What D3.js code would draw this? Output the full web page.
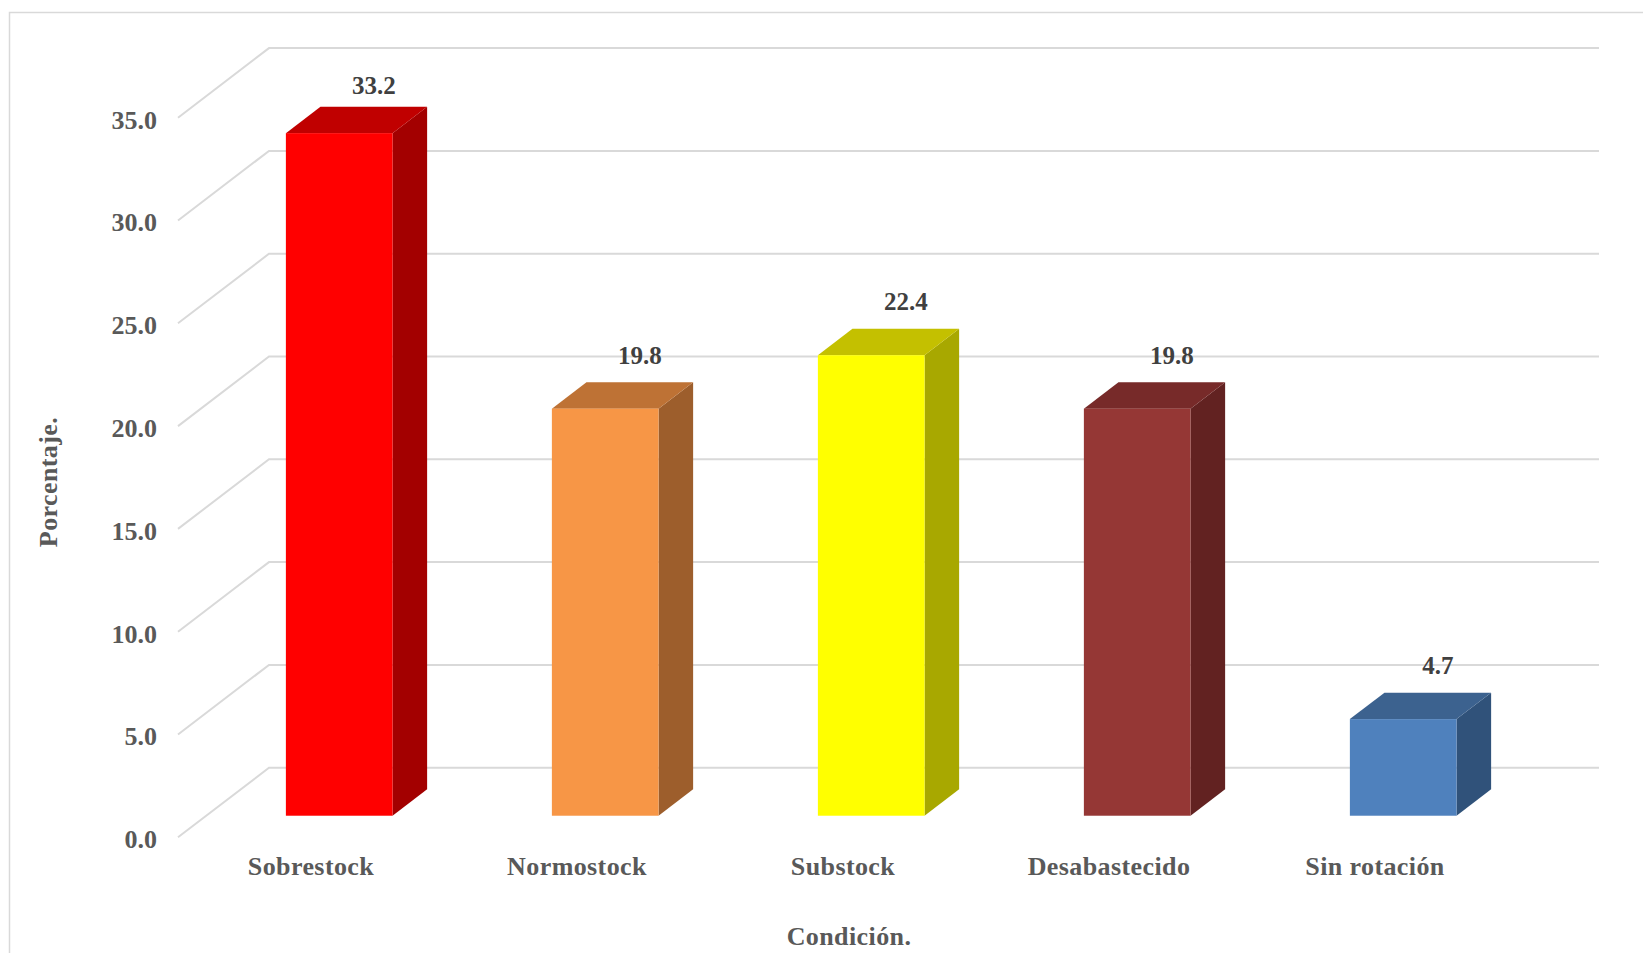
<!DOCTYPE html>
<html>
<head>
<meta charset="utf-8">
<script src="https://d3js.org/d3.v7.min.js"></script>
<style>
  body { margin: 0; background: #fff; }
  text { font-family: "Liberation Serif", "DejaVu Serif", serif; font-weight: bold; }
</style>
</head>
<body>
<div id="chart"></div>
<script>
// data
var categories = ["Sobrestock", "Normostock", "Substock", "Desabastecido", "Sin rotación"];
var values = [33.2, 19.8, 22.4, 19.8, 4.7];
var yTicks = [0, 5, 10, 15, 20, 25, 30, 35];
var frontColors = ["#FF0000", "#F79646", "#FFFF00", "#953735", "#4F81BD"];
var topColors = ["#C00000", "#BE7235", "#C4C000", "#772A29", "#3C628F"];
var sideColors = ["#A30000", "#9D5E2C", "#A8A800", "#622221", "#30527A"];

var svgWidth = 1643;
var svgHeight = 953;

var svg = d3.select("#chart")
    .append("svg")
    .attr("width", svgWidth)
    .attr("height", svgHeight);

// chart area border
svg.append("rect")
    .attr("x", 9.5).attr("y", 12.5)
    .attr("width", 1700).attr("height", 1000)
    .attr("fill", "none")
    .attr("stroke", "#d9d9d9")
    .attr("stroke-width", 1.5);

// 3d depth: back wall is shifted by (depthX, -depthY) from the front plane
var depthX = 91, depthY = 69.6;
var barFront = 0.31, barBack = 0.69;

// front plane scales
var yScale = d3.scaleLinear().domain([0, 35]).range([837.3, 117.7]);
var xScale = d3.scaleBand()
    .domain(categories)
    .range([178, 1508])
    .paddingInner(0.599)
    .paddingOuter(0.2995);

var wallLeft = 178, wallRight = 1599;

// gridlines: side wall + back wall
var grid = svg.append("g");
yTicks.forEach(function (t) {
    var yf = yScale(t);
    var yb = yf - depthY;
    grid.append("polyline")
        .attr("points", [[wallLeft, yf], [wallLeft + depthX, yb], [wallRight, yb]].join(" "))
        .attr("fill", "none")
        .attr("stroke", "#d9d9d9")
        .attr("stroke-width", 2);
});

// y axis labels
var yAxis = d3.axisLeft(yScale)
    .tickValues(yTicks)
    .tickSize(0)
    .tickPadding(0)
    .tickFormat(d3.format(".1f"));

var yAxisG = svg.append("g")
    .attr("transform", "translate(157, 2)")
    .call(yAxis);
yAxisG.select(".domain").remove();
yAxisG.selectAll("text")
    .attr("fill", "#595959")
    .style("font-size", "26px")
    .style("font-family", "'Liberation Serif', serif")
    .style("font-weight", "bold");

// bars
var bars = svg.append("g");
categories.forEach(function (c, i) {
    var v = values[i];
    var x0 = xScale(c) + depthX * barFront;
    var x1 = x0 + xScale.bandwidth();
    var yb = yScale(0) - depthY * barFront;
    var yt = yScale(v) - depthY * barFront;
    var dx = depthX * (barBack - barFront);
    var dy = depthY * (barBack - barFront);

    // side face
    bars.append("polygon")
        .attr("points", [[x1, yt], [x1 + dx, yt - dy], [x1 + dx, yb - dy], [x1, yb]].join(" "))
        .attr("fill", sideColors[i]);
    // top face
    bars.append("polygon")
        .attr("points", [[x0, yt], [x0 + dx, yt - dy], [x1 + dx, yt - dy], [x1, yt]].join(" "))
        .attr("fill", topColors[i]);
    // front face
    bars.append("rect")
        .attr("x", x0).attr("y", yt)
        .attr("width", x1 - x0).attr("height", yb - yt)
        .attr("fill", frontColors[i]);

    // data label (kept inside the plot area)
    bars.append("text")
        .attr("x", (x0 + x1) / 2 + dx)
        .attr("y", Math.max(yt - dy - 24, 88))
        .attr("text-anchor", "middle")
        .attr("dominant-baseline", "middle")
        .attr("fill", "#404040")
        .style("font-size", "25px")
        .text(d3.format(".1f")(v));
});

// category labels
svg.append("g").selectAll("text")
    .data(categories)
    .enter()
    .append("text")
    .attr("x", d => xScale(d) + xScale.bandwidth() / 2)
    .attr("y", 869)
    .attr("text-anchor", "middle")
    .attr("dominant-baseline", "middle")
    .attr("fill", "#595959")
    .style("font-size", "26px")
    .style("letter-spacing", "0.4px")
    .text(d => d);

// axis titles
svg.append("text")
    .attr("transform", "translate(51, 482) rotate(-90)")
    .attr("text-anchor", "middle")
    .attr("dominant-baseline", "middle")
    .attr("fill", "#595959")
    .style("font-size", "26px")
    .style("letter-spacing", "0.4px")
    .text("Porcentaje.");

svg.append("text")
    .attr("x", 849)
    .attr("y", 939)
    .attr("text-anchor", "middle")
    .attr("dominant-baseline", "middle")
    .attr("fill", "#595959")
    .style("font-size", "26px")
    .style("letter-spacing", "0.4px")
    .text("Condición.");
</script>
</body>
</html>
